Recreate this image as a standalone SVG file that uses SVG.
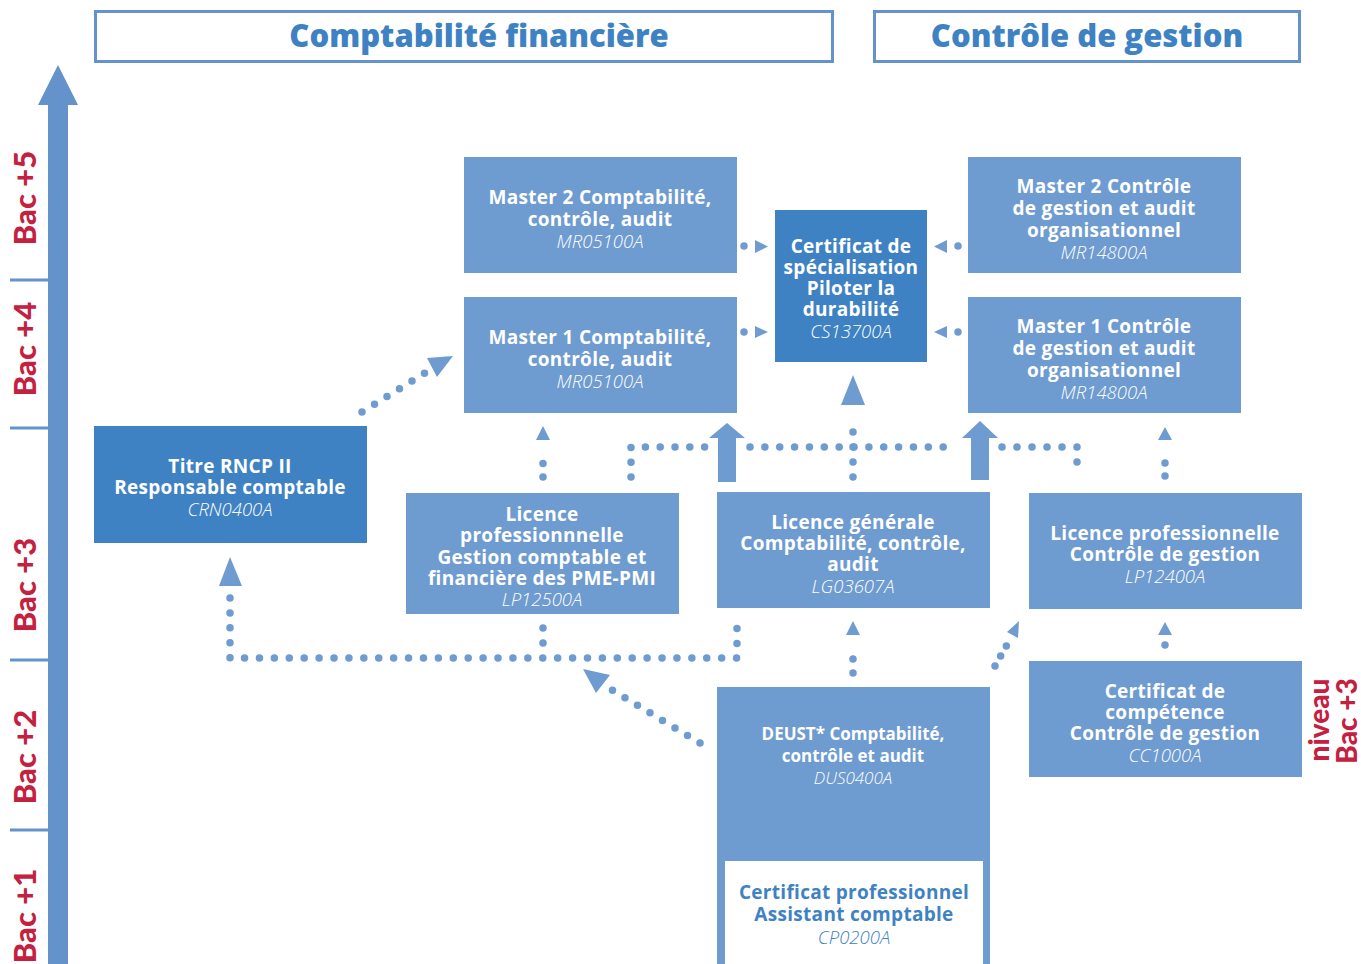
<svg xmlns="http://www.w3.org/2000/svg" width="1361" height="964" viewBox="0 0 1361 964">
<style>
.hdr{fill:#fff;stroke:#6493cb;stroke-width:3}
.htx{font-family:"Open Sans",Lato,sans-serif;font-weight:800;font-size:31px;fill:#3e82c4;text-anchor:middle}
.bac{font-family:Lato,"Open Sans",sans-serif;font-weight:900;font-size:31px;fill:#c4203f;text-anchor:middle}
.lt{fill:#6e9bd0}
.dk{fill:#3e82c4}
.t{font-family:"Open Sans",Lato,sans-serif;font-weight:700;font-size:19px;letter-spacing:0.3px;fill:#fff;text-anchor:middle}
.c{font-family:"Open Sans",Lato,sans-serif;font-weight:300;font-style:italic;font-size:18.500px;fill:#fff;text-anchor:middle}
.ts{font-size:17px;letter-spacing:0}
.cs{font-size:17px}
.b{fill:#3e82c4}
.dot{stroke:#6e9bd0;stroke-width:7.500;stroke-linecap:round;fill:none}
.ah{fill:#6e9bd0}
</style>

<g id="headers">
<rect class="hdr" x="95.500" y="11.500" width="737" height="50"/>
<text class="htx" x="479" y="47">Comptabilité financière</text>
<rect class="hdr" x="874.500" y="11.500" width="425" height="50"/>
<text class="htx" x="1087" y="47">Contrôle de gestion</text>
</g>

<g id="axis">
<rect x="48" y="104" width="20" height="860" fill="#6493cb"/>
<polygon points="58,65 78,105 38,105" fill="#6493cb"/>
<g fill="#6493cb">
<rect x="10" y="278.500" width="38" height="3"/>
<rect x="10" y="426.500" width="38" height="3"/>
<rect x="10" y="658.500" width="38" height="3"/>
<rect x="10" y="828.500" width="38" height="3"/>
</g>
<text class="bac" transform="translate(36,198) rotate(-90)">Bac +5</text>
<text class="bac" transform="translate(36,349) rotate(-90)">Bac +4</text>
<text class="bac" transform="translate(36,585) rotate(-90)">Bac +3</text>
<text class="bac" transform="translate(36,757) rotate(-90)">Bac +2</text>
<text class="bac" transform="translate(36,916) rotate(-90)">Bac +1</text>
</g>

<g id="connectors">
<line class="dot" x1="744" y1="246" x2="744" y2="246"/>
<polygon class="ah" points="755,240 768,246.500 755,253"/>
<line class="dot" x1="744" y1="332" x2="744" y2="332"/>
<polygon class="ah" points="755,326 768,332 755,338"/>
<line class="dot" x1="958" y1="246" x2="958" y2="246"/>
<polygon class="ah" points="947,240 934,246.500 947,253"/>
<line class="dot" x1="958" y1="332" x2="958" y2="332"/>
<polygon class="ah" points="947,326 934,332 947,338"/>
<path class="dot" d="M362,412 L425,373" stroke-dasharray="0 14.7"/>
<polygon class="ah" points="427,358 453,356 437,377"/>
<path class="dot" d="M543,477 L543,450" stroke-dasharray="0 13.5"/>
<polygon class="ah" points="543,426 550,440 536,440"/>
<path class="dot" d="M631,477 L631,447 L705,447" stroke-dasharray="0 14.8"/>
<path class="dot" d="M750,447 L958,447" stroke-dasharray="0 14.86"/>
<path class="dot" d="M1002,447 L1077,447 L1077,477" stroke-dasharray="0 15"/>
<path class="dot" d="M853,477 L853,417" stroke-dasharray="0 15"/>
<polygon class="ah" points="853,375 865,405 841,405"/>
<polygon class="ah" points="727,423 745,438 736,438 736,482 718,482 718,438 709,438"/>
<polygon class="ah" points="980,421 998,438 989,438 989,480 971,480 971,438 962,438"/>
<path class="dot" d="M1165,476 L1165,450" stroke-dasharray="0 13"/>
<polygon class="ah" points="1165,427 1172,440 1158,440"/>
<path class="dot" d="M230,598 L230,658 L737,658 L737,628" stroke-dasharray="0 14.91"/>
<path class="dot" d="M543,628 L543,645" stroke-dasharray="0 15"/>
<polygon class="ah" points="230,557 242,586 219,586"/>
<path class="dot" d="M700,743 L612,690" stroke-dasharray="0 14.6"/>
<polygon class="ah" points="583,669 610,675 596,693"/>
<path class="dot" d="M853,673 L853,645" stroke-dasharray="0 14"/>
<polygon class="ah" points="853,621 860,635 846,635"/>
<path class="dot" d="M995,666 L1008,643" stroke-dasharray="0 11.5"/>
<polygon class="ah" points="1019,621 1018,638 1007,632"/>
<line class="dot" x1="1165" y1="645" x2="1165" y2="645"/>
<polygon class="ah" points="1165,622 1172,635 1158,635"/>
</g>

<g id="master2-cf">
<rect class="lt" x="464" y="157" width="273" height="116"/>
<text class="t" x="600" y="204">Master 2 Comptabilité,</text>
<text class="t" x="600" y="226">contrôle, audit</text>
<text class="c" x="600" y="248">MR05100A</text>
</g>
<g id="master1-cf">
<rect class="lt" x="464" y="297" width="273" height="116"/>
<text class="t" x="600" y="344">Master 1 Comptabilité,</text>
<text class="t" x="600" y="366">contrôle, audit</text>
<text class="c" x="600" y="388">MR05100A</text>
</g>
<g id="cert-specialisation">
<rect class="dk" x="775" y="210" width="152" height="152"/>
<text class="t" x="851" y="253">Certificat de</text>
<text class="t" x="851" y="274">spécialisation</text>
<text class="t" x="851" y="295">Piloter la</text>
<text class="t" x="851" y="316">durabilité</text>
<text class="c" x="851" y="338">CS13700A</text>
</g>
<g id="master2-cg">
<rect class="lt" x="968" y="157" width="273" height="116"/>
<text class="t" x="1104" y="193">Master 2 Contrôle</text>
<text class="t" x="1104" y="215">de gestion et audit</text>
<text class="t" x="1104" y="237">organisationnel</text>
<text class="c" x="1104" y="259">MR14800A</text>
</g>
<g id="master1-cg">
<rect class="lt" x="968" y="297" width="273" height="116"/>
<text class="t" x="1104" y="333">Master 1 Contrôle</text>
<text class="t" x="1104" y="355">de gestion et audit</text>
<text class="t" x="1104" y="377">organisationnel</text>
<text class="c" x="1104" y="399">MR14800A</text>
</g>
<g id="titre-rncp">
<rect class="dk" x="94" y="426" width="273" height="117"/>
<text class="t" x="230" y="473">Titre RNCP II</text>
<text class="t" x="230" y="494">Responsable comptable</text>
<text class="c" x="230" y="516">CRN0400A</text>
</g>
<g id="licence-pro-gc">
<rect class="lt" x="406" y="493" width="273" height="121"/>
<text class="t" x="542" y="521">Licence</text>
<text class="t" x="542" y="542">professionnnelle</text>
<text class="t" x="542" y="564">Gestion comptable et</text>
<text class="t" x="542" y="585">financière des PME-PMI</text>
<text class="c" x="542" y="606">LP12500A</text>
</g>
<g id="licence-generale">
<rect class="lt" x="717" y="492" width="273" height="116"/>
<text class="t" x="853" y="529">Licence générale</text>
<text class="t" x="853" y="550">Comptabilité, contrôle,</text>
<text class="t" x="853" y="571">audit</text>
<text class="c" x="853" y="593">LG03607A</text>
</g>
<g id="licence-pro-cg">
<rect class="lt" x="1029" y="493" width="273" height="116"/>
<text class="t" x="1165" y="540">Licence professionnelle</text>
<text class="t" x="1165" y="561">Contrôle de gestion</text>
<text class="c" x="1165" y="583">LP12400A</text>
</g>
<g id="cert-competence">
<rect class="lt" x="1029" y="661" width="273" height="116"/>
<text class="t" x="1165" y="698">Certificat de</text>
<text class="t" x="1165" y="719">compétence</text>
<text class="t" x="1165" y="740">Contrôle de gestion</text>
<text class="c" x="1165" y="762">CC1000A</text>
</g>
<g id="deust">
<rect class="lt" x="717" y="687" width="273" height="277"/>
<text class="t ts" x="853" y="740">DEUST* Comptabilité,</text>
<text class="t ts" x="853" y="762">contrôle et audit</text>
<text class="c cs" x="853" y="784">DUS0400A</text>
</g>
<g id="cert-pro">
<rect x="725" y="861" width="258" height="103" fill="#fff"/>
<text class="t b" x="854" y="899">Certificat professionnel</text>
<text class="t b" x="854" y="921">Assistant comptable</text>
<text class="c b" x="854" y="944">CP0200A</text>
</g>
<g id="niveau-label">
<text class="bac" style="font-size:28px" transform="translate(1329,720) rotate(-90)">niveau</text>
<text class="bac" style="font-size:28px" transform="translate(1357,721) rotate(-90)">Bac +3</text>
</g>
</svg>
